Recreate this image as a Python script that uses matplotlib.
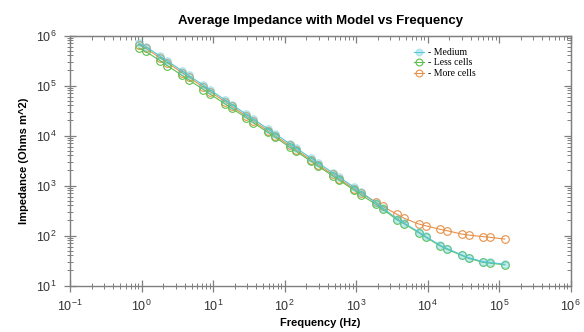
import numpy as np
import matplotlib
matplotlib.use("Agg")
import matplotlib.pyplot as plt

# frequencies (Hz)
freq = [0.9155, 1.144, 1.831, 2.289, 3.662, 4.578, 7.324, 9.155, 14.65, 18.31,
        29.30, 36.62, 58.59, 73.24, 117.2, 146.5, 234.4, 293.0, 468.8, 585.9,
        937.5, 1171.9, 1875, 2343.75, 3750, 4687.5, 7500, 9375, 15000, 18750,
        30000, 37500, 60000, 75000, 120000]

# impedance (Ohms m^2)
medium = [700000, 600000, 385000, 311000, 197000, 159000, 101000, 81300, 51600, 41600,
          26400, 21300, 13500, 10900, 6900, 5560, 3530, 2850, 1810, 1460,
          925, 745, 455, 360, 215, 178, 118, 96, 64, 55,
          41, 36, 30, 29, 26.5]
less_cells = [560000, 480000, 310000, 250000, 160000, 130000, 83000, 67000, 43000, 35000,
              22500, 18000, 11500, 9300, 5900, 4800, 3050, 2450, 1570, 1270,
              810, 650, 425, 340, 205, 172, 114, 93, 62, 53,
              40, 35, 29, 28, 26]
more_cells = [650000, 555000, 355000, 287000, 182000, 147000, 93000, 75000, 47500, 38300,
              24300, 19600, 12400, 10000, 6350, 5120, 3250, 2620, 1670, 1350,
              860, 700, 470, 385, 265, 222, 170, 157, 133, 125,
              107, 102, 95, 92, 85]

x_ticks = [1e-1, 1e0, 1e1, 1e2, 1e3, 1e4, 1e5, 1e6]
x_labels = ['$10^{-1}$', '$10^{0}$', '$10^{1}$', '$10^{2}$', '$10^{3}$', '$10^{4}$', '$10^{5}$', '$10^{6}$']
y_ticks = [1e1, 1e2, 1e3, 1e4, 1e5, 1e6]
y_labels = ['$10^{1}$', '$10^{2}$', '$10^{3}$', '$10^{4}$', '$10^{5}$', '$10^{6}$']

plt.rcParams['font.family'] = ['Liberation Sans', 'DejaVu Sans']
plt.rcParams['mathtext.fontset'] = 'custom'
plt.rcParams['mathtext.rm'] = 'Liberation Sans'
plt.rcParams['mathtext.it'] = 'Liberation Sans'
plt.rcParams['axes.unicode_minus'] = False

fig = plt.figure(figsize=(5.84, 3.32), dpi=100)
ax = fig.add_axes([0.12, 0.14, 0.857, 0.753])

c_med = '#55c6d6'
c_less = '#5cbf4a'
c_more = '#e8914a'

ax.plot(freq, more_cells, '-o', color=c_more, lw=0.8, ms=5.5, mfc='none', mew=0.8,
        label='- More cells', zorder=2)
ax.plot(freq, less_cells, '-o', color=c_less, lw=0.8, ms=5.5, mfc='none', mew=0.8,
        label='- Less cells', zorder=3)
ax.plot(freq, medium, '-o', color=c_med, lw=0.8, ms=5.5, mfc=(0.33, 0.78, 0.84, 0.35),
        mew=0.8, label='- Medium', zorder=4)

ax.set_xscale('log')
ax.set_yscale('log')
ax.set_xlim(1e-1, 1e6)
ax.set_ylim(1e1, 1e6)

gray = '#7f7f7f'
for s in ax.spines.values():
    s.set_color(gray)
    s.set_linewidth(1.0)

ax.set_xticks(x_ticks, x_labels)
ax.set_yticks(y_ticks, y_labels)
ax.xaxis.set_minor_locator(matplotlib.ticker.LogLocator(base=10, subs=np.arange(2, 10), numticks=20))
ax.yaxis.set_minor_locator(matplotlib.ticker.LogLocator(base=10, subs=np.arange(2, 10), numticks=20))
ax.xaxis.set_minor_formatter(matplotlib.ticker.NullFormatter())
ax.yaxis.set_minor_formatter(matplotlib.ticker.NullFormatter())

ax.tick_params(which='major', direction='inout', length=9, width=0.9, color=gray,
               labelsize=9, labelcolor='#333333', pad=5)
ax.tick_params(which='minor', direction='inout', length=5, width=0.7, color=gray)

# inward ticks on top and right
top = ax.secondary_xaxis('top')
top.set_xticks(x_ticks)
top.tick_params(which='major', direction='in', length=5, width=0.9, color=gray, labeltop=False)
top.tick_params(which='minor', direction='in', length=3, width=0.7, color=gray)
top.xaxis.set_major_formatter(matplotlib.ticker.NullFormatter())
top.xaxis.set_minor_formatter(matplotlib.ticker.NullFormatter())
top.spines['top'].set_color(gray)
right = ax.secondary_yaxis('right')
right.set_yticks(y_ticks)
right.tick_params(which='major', direction='in', length=5, width=0.9, color=gray, labelright=False)
right.tick_params(which='minor', direction='in', length=3, width=0.7, color=gray)
right.yaxis.set_major_formatter(matplotlib.ticker.NullFormatter())
right.yaxis.set_minor_formatter(matplotlib.ticker.NullFormatter())
right.spines['right'].set_color(gray)

ax.set_title('Average Impedance with Model vs Frequency', fontsize=9.5,
             fontweight='bold', pad=8)
ax.set_xlabel('Frequency (Hz)', fontsize=8, fontweight='bold', labelpad=3)
ax.set_ylabel('Impedance (Ohms m^2)', fontsize=8, fontweight='bold', labelpad=5)

handles, labels = ax.get_legend_handles_labels()
ax.legend(handles[::-1], labels[::-1], loc='upper left', bbox_to_anchor=(0.67, 0.985),
          frameon=False, prop={'family': 'Liberation Serif', 'size': 7},
          handlelength=1.0, handletextpad=0.4, labelspacing=0.15, markerscale=0.9)

fig.savefig('out.png', dpi=100)
